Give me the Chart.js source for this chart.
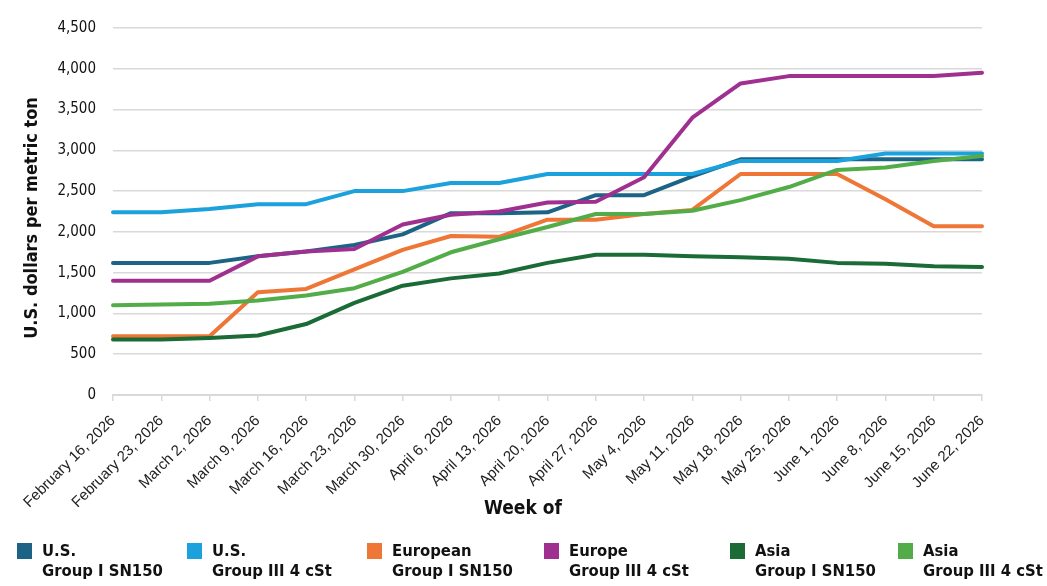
<!DOCTYPE html>
<html>
<head>
<meta charset="utf-8">
<script src="https://cdn.jsdelivr.net/npm/chart.js@4"></script>
<style>
  html, body { margin: 0; padding: 0; background: #fff; }
  #wrap { position: relative; width: 1047px; height: 586px; overflow: hidden; }
  #c { position: absolute; left: 0; top: 0; }
  .cond { font-family: 'DejaVu Sans Condensed', 'Liberation Sans Narrow', 'DejaVu Sans', sans-serif; font-stretch: condensed; }
  #xtitle { position: absolute; top: 496px; left: 423px; width: 200px; text-align: center; font-weight: bold; font-size: 19px; color: #111; }
  #ytitle { position: absolute; left: 30px; top: 218px; transform: translate(-50%, -50%) rotate(-90deg); white-space: nowrap; font-weight: bold; font-size: 18px; color: #111; }
  .lg { position: absolute; top: 543px; font-weight: bold; font-size: 16.5px; line-height: 19.5px; color: #111; }
  .lg .box { position: absolute; left: 0; top: 0; width: 15px; height: 16px; }
  .lg .txt { position: absolute; left: 25px; top: -2px; white-space: nowrap; }
</style>
</head>
<body>
<div id="wrap">
  <canvas id="c" width="1047" height="586"></canvas>
  <div id="ytitle" class="cond">U.S. dollars per metric ton</div>
  <div id="xtitle" class="cond">Week of</div>
  <div id="legend"></div>
</div>
<script>
const weeks = ['February 16, 2026','February 23, 2026','March 2, 2026','March 9, 2026','March 16, 2026','March 23, 2026','March 30, 2026','April 6, 2026','April 13, 2026','April 20, 2026','April 27, 2026','May 4, 2026','May 11, 2026','May 18, 2026','May 25, 2026','June 1, 2026','June 8, 2026','June 15, 2026','June 22, 2026'];

const seriesNames = [
  ['U.S.', 'Group I SN150'],
  ['U.S.', 'Group III 4 cSt'],
  ['European', 'Group I SN150'],
  ['Europe', 'Group III 4 cSt'],
  ['Asia', 'Group I SN150'],
  ['Asia', 'Group III 4 cSt']
];

const usGroupI    = [1620,1620,1620,1700,1760,1840,1970,2230,2230,2240,2450,2450,2680,2890,2890,2890,2890,2890,2890];
const usGroupIII  = [2240,2240,2280,2340,2340,2500,2500,2600,2600,2710,2710,2710,2710,2870,2870,2870,2960,2960,2960];
const euGroupI    = [720,720,720,1260,1300,1540,1780,1950,1940,2150,2150,2220,2270,2710,2710,2710,2400,2070,2070];
const euGroupIII  = [1400,1400,1400,1700,1760,1790,2090,2210,2250,2360,2370,2670,3400,3820,3910,3910,3910,3910,3950];
const asiaGroupI  = [680,680,700,730,870,1130,1340,1430,1490,1620,1720,1720,1700,1690,1670,1620,1610,1580,1570];
const asiaGroupIII= [1100,1110,1120,1160,1220,1310,1510,1750,1910,2060,2220,2220,2260,2390,2550,2760,2790,2870,2930];

const yTicks = [0,500,1000,1500,2000,2500,3000,3500,4000,4500];

const seriesValues = [usGroupI, usGroupIII, euGroupI, euGroupIII, asiaGroupI, asiaGroupIII];
const colors = ['#1c6386', '#1ba1dc', '#ee7636', '#a0308f', '#1a6b36', '#52ad48'];

const condFamily = "'DejaVu Sans Condensed', 'Liberation Sans Narrow', 'DejaVu Sans', sans-serif";

const datasets = seriesValues.map((vals, i) => ({
  label: seriesNames[i].join(' '),
  data: vals,
  borderColor: colors[i],
  backgroundColor: colors[i],
  borderWidth: 4,
  pointRadius: 0,
  tension: 0,
  fill: false,
  borderJoinStyle: 'round',
  borderCapStyle: 'round',
  order: seriesValues.length - i
}));

new Chart(document.getElementById('c'), {
  type: 'line',
  data: { labels: weeks, datasets },
  options: {
    responsive: false,
    animation: false,
    devicePixelRatio: 1,
    layout: { padding: { top: 28, right: 65, bottom: 0, left: 0 } },
    plugins: { legend: { display: false }, tooltip: { enabled: false }, title: { display: false } },
    scales: {
      x: {
        offset: false,
        grid: { display: true, drawOnChartArea: false, drawTicks: true, tickLength: 6, color: '#d9d9d9', lineWidth: 1.5 },
        border: { display: true, color: '#d9d9d9', width: 2 },
        ticks: {
          autoSkip: false, maxRotation: 45, minRotation: 45, padding: 11,
          color: '#222',
          font: { family: "'Liberation Sans', Arial, sans-serif", size: 15 }
        },
        afterFit: (s) => { s.height = 586 - 395; }
      },
      y: {
        min: 0, max: 4500,
        afterBuildTicks: (s) => { s.ticks = yTicks.map(v => ({ value: v })); },
        grid: { color: '#d9d9d9', lineWidth: 1.5, drawTicks: false },
        border: { display: false },
        ticks: {
          padding: 17,
          color: '#111',
          font: { family: condFamily, size: 15 },
          callback: (v) => v.toLocaleString('en-US')
        },
        afterFit: (s) => { s.width = 113; }
      }
    }
  }
});

const legendPos = [17, 187, 367, 544, 730, 898];
const lg = document.getElementById('legend');
seriesNames.forEach((n, i) => {
  const d = document.createElement('div');
  d.className = 'lg cond';
  d.style.left = legendPos[i] + 'px';
  d.innerHTML = '<div class="box" style="background:' + colors[i] + '"></div><div class="txt">' + n[0] + '<br>' + n[1] + '</div>';
  lg.appendChild(d);
});
</script>
</body>
</html>
